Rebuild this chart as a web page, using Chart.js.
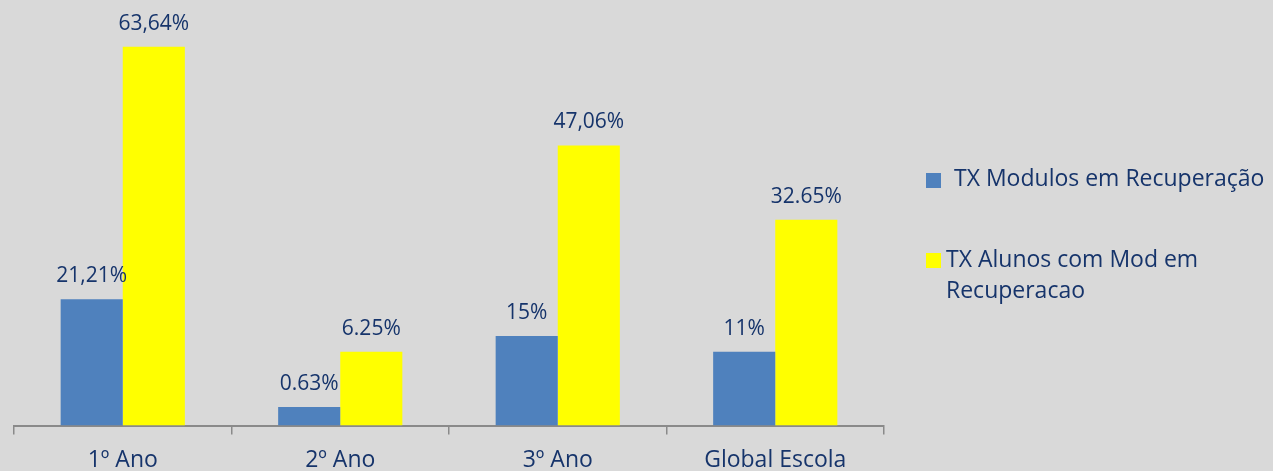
<!DOCTYPE html>
<html>
<head>
<meta charset="utf-8">
<script src="https://cdn.jsdelivr.net/npm/chart.js@4.4.1/dist/chart.umd.min.js"></script>
<style>
  body { margin: 0; background: #d9d9d9; }
  #caixa { position: relative; width: 1273px; height: 471px; background: #d9d9d9; overflow: hidden; }
  #grafico { position: absolute; left: 0; top: 0; }
  .legenda { position: absolute; font-family: "Open Sans", sans-serif; font-size: 23px; color: #16346b; line-height: 31px; white-space: normal; }
</style>
</head>
<body>
<div id="caixa">
  <canvas id="grafico" width="1273" height="471"></canvas>
</div>
<script>
// dados
const categorias = ['1º Ano', '2º Ano', '3º Ano', 'Global Escola'];
const nomesSeries = ['TX Modulos em Recuperação', 'TX Alunos com Mod em Recuperacao'];
const txModulos = [21.21, 3.1, 15.05, 12.4];
const txAlunos = [63.64, 12.4, 47.06, 34.6];
// rótulos escritos em cima das barras (como aparecem no original)
const rotulosModulos = ['21,21%', '0.63%', '15%', '11%'];
const rotulosAlunos = ['63,64%', '6.25%', '47,06%', '32.65%'];

const corTexto = '#16346b';
const coresSeries = ['#4f81bd', '#ffff00'];
const fonte = '"Open Sans", sans-serif';

// plugin simples pra escrever os valores em cima das barras
const rotulosPlugin = {
    id: 'rotulos',
    afterDatasetsDraw(chart) {
        const ctx = chart.ctx;
        const todos = [rotulosModulos, rotulosAlunos];
        ctx.save();
        ctx.font = '21px ' + fonte;
        ctx.fillStyle = corTexto;
        ctx.textAlign = 'center';
        ctx.textBaseline = 'alphabetic';
        chart.data.datasets.forEach((ds, i) => {
            const meta = chart.getDatasetMeta(i);
            meta.data.forEach((barra, j) => {
                ctx.fillText(todos[i][j], barra.x, barra.y - 17);
            });
        });
        ctx.restore();
    }
};

var ctx = document.getElementById('grafico').getContext('2d');
var grafico = new Chart(ctx, {
    type: 'bar',
    data: {
        labels: categorias,
        datasets: [
            { label: nomesSeries[0], data: txModulos, backgroundColor: coresSeries[0] },
            { label: nomesSeries[1], data: txAlunos, backgroundColor: coresSeries[1] }
        ]
    },
    options: {
        responsive: false,
        animation: false,
        devicePixelRatio: 1,
        layout: { padding: { left: 14, right: 389, top: 9, bottom: 0 } },
        categoryPercentage: 0.571,
        barPercentage: 1.0,
        plugins: {
            legend: { display: false },
            tooltip: { enabled: false }
        },
        scales: {
            x: {
                afterFit(scale) { scale.height = 45.5; },
                grid: {
                    offset: true,
                    drawOnChartArea: false,
                    drawTicks: true,
                    tickLength: 9,
                    color: '#8a8a8a',
                    lineWidth: 1.5
                },
                border: { display: true, color: '#8a8a8a', width: 2 },
                ticks: {
                    color: corTexto,
                    font: { family: fonte, size: 23 },
                    padding: 12,
                    maxRotation: 0
                }
            },
            y: {
                display: false,
                min: 0,
                max: 70
            }
        }
    },
    plugins: [rotulosPlugin]
});

// legenda em html, pra poder quebrar a linha como no original
var caixa = document.getElementById('caixa');
var posLegenda = [
    { quadX: 926, quadY: 173, textoX: 954, textoY: 162, largura: 319 },
    { quadX: 926, quadY: 253, textoX: 946, textoY: 243, largura: 300 }
];
for (let i = 0; i < nomesSeries.length; i++) {
    let p = posLegenda[i];
    let q = document.createElement('span');
    q.className = 'legenda';
    q.style.left = p.quadX + 'px';
    q.style.top = p.quadY + 'px';
    q.style.width = '15px';
    q.style.height = '15px';
    q.style.background = coresSeries[i];
    caixa.appendChild(q);
    let t = document.createElement('div');
    t.className = 'legenda';
    t.style.left = p.textoX + 'px';
    t.style.top = p.textoY + 'px';
    t.style.width = p.largura + 'px';
    t.textContent = nomesSeries[i];
    caixa.appendChild(t);
}
</script>
</body>
</html>
